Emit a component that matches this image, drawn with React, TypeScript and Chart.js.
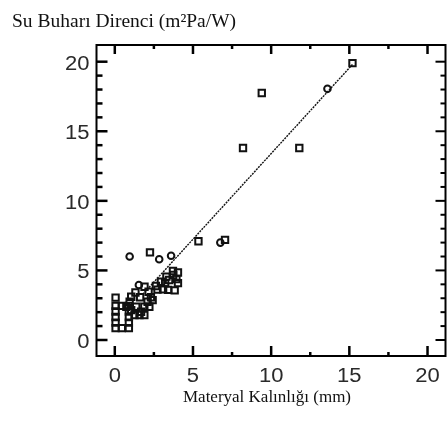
import React, { useEffect, useRef } from "react";
import { Chart, registerables } from "chart.js";

Chart.register(...registerables);

const titleText = "Su Buharı Direnci (m²Pa/W)";
const xTitleText = "Materyal Kalınlığı (mm)";

const xTickValues = [0, 5, 10, 15, 20];
const yTickValues = [0, 5, 10, 15, 20];
const xMinorTicks = [2.5, 7.5, 12.5, 17.5];
const yMinorTicks = [1, 2, 3, 4, 6, 7, 8, 9, 11, 12, 13, 14, 16, 17, 18, 19];

// open square markers
const squareX = [
  15.2, 8.2, 11.8, 9.4, 5.35, 7.05, 2.25,
  3.72, 4.04, 3.74, 3.94, 3.47, 3.22, 4.04, 2.95, 2.63, 2.73, 3.09, 3.41, 3.83, 3.3,
  1.9, 1.32, 2.16, 1.05, 1.62, 2.31, 0.74, 1.05, 1.37, 1.68, 1.89, 2.1, 2.42, 1.58, 1.89, 1.26, 2.21, 0.95,
  0.05,
  0.05, 0.05, 0.05, 0.05, 0.05, 0.9, 0.9, 0.9, 0.9, 0.9, 0.45, 0.45,
];
const squareY = [
  19.9, 13.8, 13.8, 17.75, 7.1, 7.2, 6.3,
  4.96, 4.85, 4.67, 4.38, 4.31, 4.09, 4.09, 4.19, 3.88, 3.62, 3.64, 3.6, 3.57, 4.55,
  3.83, 3.41, 3.47, 3.11, 3.07, 3.07, 2.39, 2.15, 2.39, 2.03, 2.39, 2.75, 2.87, 1.8, 1.8, 1.8, 2.39, 2.75,
  3.05,
  0.85, 1.25, 1.65, 2.05, 2.45, 0.85, 1.25, 1.65, 2.05, 2.45, 0.85, 2.45,
];

// open circle markers
const circleX = [13.6, 0.95, 3.6, 2.84, 6.75, 1.54];
const circleY = [18.05, 6.0, 6.05, 5.8, 7.0, 3.95];

// regression line end points
const fitX = [1.8, 15.2];
const fitY = [3.3, 19.8];

const sansFamily = "'Liberation Sans', Arial, sans-serif";
const serifFamily = "'Liberation Serif', 'Times New Roman', serif";

const framePlugin = {
  id: "frame",
  afterDraw(chart: any) {
    const { ctx, chartArea: a, scales } = chart;
    const xs = scales.x;
    const ys = scales.y;
    ctx.save();
    ctx.strokeStyle = "#000";
    ctx.lineCap = "butt";
    const seg = (x1: number, y1: number, x2: number, y2: number, w: number) => {
      ctx.lineWidth = w;
      ctx.beginPath();
      ctx.moveTo(x1, y1);
      ctx.lineTo(x2, y2);
      ctx.stroke();
    };
    ctx.lineWidth = 2;
    ctx.strokeRect(a.left, a.top, a.right - a.left, a.bottom - a.top);
    xTickValues.forEach((v) => {
      const p = xs.getPixelForValue(v);
      seg(p, a.bottom, p, a.bottom - 10, 2.5);
      seg(p, a.top, p, a.top + 9, 2.5);
    });
    xMinorTicks.forEach((v) => {
      const p = xs.getPixelForValue(v);
      seg(p, a.bottom, p, a.bottom - 4, 2.5);
      seg(p, a.top, p, a.top + 4, 2.5);
    });
    yTickValues.forEach((v) => {
      const p = ys.getPixelForValue(v);
      seg(a.left, p, a.left + 11, p, 2.5);
      seg(a.right, p, a.right - 10, p, 2);
    });
    yMinorTicks.forEach((v) => {
      const p = ys.getPixelForValue(v);
      seg(a.left, p, a.left + 6, p, 2.5);
      seg(a.right, p, a.right - 5, p, 2);
    });

    // tick labels (slightly widened like the reference)
    const stretched = (text: string, x: number, y: number, align: CanvasTextAlign) => {
      ctx.save();
      ctx.translate(x, y);
      ctx.scale(1.1, 1);
      ctx.textAlign = align;
      ctx.fillText(text, 0, 0);
      ctx.restore();
    };
    ctx.fillStyle = "#2a2a2a";
    ctx.font = `20px ${sansFamily}`;
    ctx.textBaseline = "alphabetic";
    xTickValues.forEach((v) => {
      stretched(String(v), xs.getPixelForValue(v), a.bottom + 26, "center");
    });
    yTickValues.forEach((v) => {
      stretched(String(v), a.left - 7, ys.getPixelForValue(v) + 8, "right");
    });

    // titles
    ctx.fillStyle = "#111";
    ctx.textAlign = "left";
    ctx.font = `19.5px ${serifFamily}`;
    ctx.fillText(titleText, 12, 27);
    ctx.textAlign = "center";
    ctx.font = `17px ${serifFamily}`;
    ctx.fillText(xTitleText, (a.left + a.right) / 2 - 4, a.bottom + 45.5);
    ctx.restore();
  },
};

export default function App() {
  const ref = useRef<HTMLCanvasElement | null>(null);

  useEffect(() => {
    if (!ref.current) return;
    const toPts = (xs: number[], ys: number[]) => xs.map((x, i) => ({ x, y: ys[i] }));
    const chart = new Chart(ref.current, {
      type: "scatter",
      data: {
        datasets: [
          {
            data: toPts(fitX, fitY),
            showLine: true,
            borderColor: "#111",
            borderWidth: 1.4,
            borderDash: [2, 1],
            pointRadius: 0,
          },
          {
            data: toPts(squareX, squareY),
            pointStyle: "rect",
            pointRadius: 4.5,
            pointBorderWidth: 2,
            pointBorderColor: "#111",
            pointBackgroundColor: "rgba(255,255,255,0)",
          },
          {
            data: toPts(circleX, circleY),
            pointStyle: "circle",
            pointRadius: 3.3,
            pointBorderWidth: 2,
            pointBorderColor: "#111",
            pointBackgroundColor: "rgba(255,255,255,0)",
          },
        ],
      },
      options: {
        animation: false,
        responsive: false,
        events: [],
        layout: { padding: { left: 96.5, right: 2, top: 45, bottom: 65 } },
        plugins: {
          legend: { display: false },
          tooltip: { enabled: false },
          title: { display: false, text: titleText },
        },
        scales: {
          x: {
            type: "linear",
            display: false,
            min: -1.17,
            max: 21.15,
            title: { display: false, text: xTitleText },
          },
          y: {
            type: "linear",
            display: false,
            min: -1.15,
            max: 21.2,
          },
        },
      },
      plugins: [framePlugin],
    });
    return () => chart.destroy();
  }, []);

  return (
    <div style={{ position: "fixed", left: 0, top: 0, width: 447, height: 421, overflow: "hidden", background: "#fff" }}>
      <canvas ref={ref} width={452} height={421} style={{ display: "block" }} />
    </div>
  );
}
